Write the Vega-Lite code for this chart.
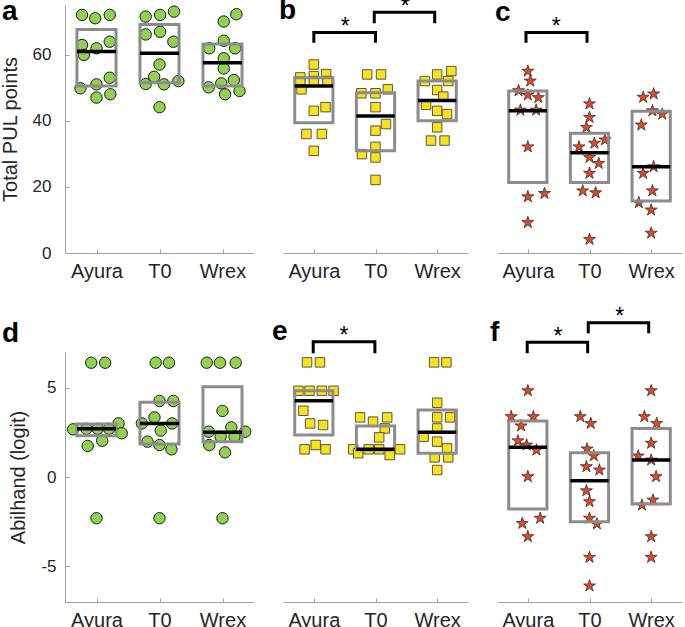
{
"$schema":"https://vega.github.io/schema/vega-lite/v6.json",
"background":"white",
"padding":{"left":0,"top":-5,"right":0,"bottom":0},
"config":{"view":{"stroke":null},"axis":{"grid":false,"ticks":true,"tickSize":-4,"tickColor":"#a0a0a0","domainColor":"#a0a0a0","labelFont":"Liberation Sans","titleFont":"Liberation Sans","labelColor":"#262626","titleColor":"#262626","titleFontWeight":"normal"},"title":{"font":"Liberation Sans","color":"#000000"},"text":{"font":"Liberation Sans"}},
"datasets":{
"pts":[
{"p":"a","x":0.77,"v":72.0},{"p":"a","x":0.98,"v":71.0},{"p":"a","x":1.21,"v":72.0},{"p":"a","x":0.77,"v":62.9},{"p":"a","x":0.8,"v":59.9},{"p":"a","x":1.0,"v":61.9},{"p":"a","x":1.21,"v":63.9},{"p":"a","x":0.745,"v":49.8},{"p":"a","x":1.0,"v":51.0},{"p":"a","x":1.21,"v":53.0},{"p":"a","x":1.0,"v":47.0},{"p":"a","x":1.22,"v":48.0},
{"p":"a","x":1.78,"v":71.5},{"p":"a","x":2.01,"v":72.0},{"p":"a","x":2.23,"v":73.0},{"p":"a","x":1.78,"v":66.1},{"p":"a","x":2.01,"v":66.9},{"p":"a","x":2.22,"v":63.9},{"p":"a","x":2.0,"v":57.0},{"p":"a","x":1.915,"v":53.3},{"p":"a","x":1.78,"v":51.1},{"p":"a","x":2.07,"v":51.0},{"p":"a","x":2.3,"v":52.0},{"p":"a","x":2.0,"v":44.1},
{"p":"a","x":3.02,"v":70.0},{"p":"a","x":3.22,"v":72.2},{"p":"a","x":2.79,"v":61.9},{"p":"a","x":3.02,"v":64.2},{"p":"a","x":3.2,"v":61.9},{"p":"a","x":3.02,"v":58.9},{"p":"a","x":3.02,"v":55.8},{"p":"a","x":2.78,"v":50.1},{"p":"a","x":2.98,"v":51.3},{"p":"a","x":3.18,"v":52.3},{"p":"a","x":3.04,"v":48.0},{"p":"a","x":3.27,"v":49.0},
{"p":"b","x":1.0,"v":57.0},{"p":"b","x":0.78,"v":53.1},{"p":"b","x":1.0,"v":53.5},{"p":"b","x":1.2,"v":54.1},{"p":"b","x":0.78,"v":51.8},{"p":"b","x":1.0,"v":52.0},{"p":"b","x":1.22,"v":52.0},{"p":"b","x":0.8,"v":49.5},{"p":"b","x":1.0,"v":43.0},{"p":"b","x":1.19,"v":44.1},{"p":"b","x":0.88,"v":36.0},{"p":"b","x":1.13,"v":36.0},{"p":"b","x":1.0,"v":30.9},
{"p":"b","x":1.865,"v":54.0},{"p":"b","x":2.09,"v":54.0},{"p":"b","x":1.77,"v":48.3},{"p":"b","x":2.0,"v":48.3},{"p":"b","x":2.2,"v":49.5},{"p":"b","x":2.0,"v":44.1},{"p":"b","x":2.17,"v":39.0},{"p":"b","x":2.0,"v":37.0},{"p":"b","x":2.0,"v":32.1},{"p":"b","x":1.78,"v":29.9},{"p":"b","x":2.0,"v":28.9},{"p":"b","x":2.0,"v":22.1},
{"p":"b","x":2.8,"v":52.0},{"p":"b","x":3.0,"v":54.0},{"p":"b","x":3.23,"v":55.0},{"p":"b","x":3.18,"v":52.0},{"p":"b","x":3.0,"v":49.3},{"p":"b","x":3.1,"v":47.3},{"p":"b","x":2.82,"v":44.8},{"p":"b","x":3.0,"v":43.0},{"p":"b","x":3.16,"v":42.0},{"p":"b","x":3.0,"v":38.0},{"p":"b","x":2.9,"v":34.0},{"p":"b","x":3.12,"v":34.0},
{"p":"c","x":1.0,"v":55.0},{"p":"c","x":1.04,"v":52.0},{"p":"c","x":0.85,"v":49.1},{"p":"c","x":1.0,"v":47.8},{"p":"c","x":1.17,"v":47.0},{"p":"c","x":0.88,"v":43.2},{"p":"c","x":1.135,"v":43.2},{"p":"c","x":1.0,"v":32.1},{"p":"c","x":1.0,"v":17.0},{"p":"c","x":1.27,"v":18.0},{"p":"c","x":1.0,"v":9.2},
{"p":"c","x":2.0,"v":45.1},{"p":"c","x":2.0,"v":41.0},{"p":"c","x":1.95,"v":38.0},{"p":"c","x":1.83,"v":32.1},{"p":"c","x":2.08,"v":33.2},{"p":"c","x":2.25,"v":34.2},{"p":"c","x":2.0,"v":28.9},{"p":"c","x":2.15,"v":27.1},{"p":"c","x":2.0,"v":24.1},{"p":"c","x":1.89,"v":18.8},{"p":"c","x":2.1,"v":18.2},{"p":"c","x":2.0,"v":4.1},
{"p":"c","x":2.87,"v":47.1},{"p":"c","x":3.04,"v":48.1},{"p":"c","x":3.02,"v":43.0},{"p":"c","x":3.18,"v":42.0},{"p":"c","x":2.84,"v":38.7},{"p":"c","x":3.04,"v":26.1},{"p":"c","x":2.87,"v":24.1},{"p":"c","x":3.02,"v":18.8},{"p":"c","x":2.8,"v":15.2},{"p":"c","x":3.0,"v":13.0},{"p":"c","x":3.0,"v":6.0},
{"p":"d","x":0.916,"v":6.4},{"p":"d","x":1.137,"v":6.4},{"p":"d","x":0.63,"v":2.67},{"p":"d","x":0.84,"v":2.7},{"p":"d","x":1.02,"v":2.7},{"p":"d","x":1.2,"v":2.7},{"p":"d","x":1.35,"v":3.0},{"p":"d","x":1.4,"v":2.45},{"p":"d","x":0.86,"v":1.74},{"p":"d","x":1.09,"v":2.03},{"p":"d","x":1.0,"v":-2.31},
{"p":"d","x":1.94,"v":6.4},{"p":"d","x":2.15,"v":6.4},{"p":"d","x":2.0,"v":4.26},{"p":"d","x":2.22,"v":4.26},{"p":"d","x":1.92,"v":3.34},{"p":"d","x":1.72,"v":3.0},{"p":"d","x":2.2,"v":3.0},{"p":"d","x":2.02,"v":2.6},{"p":"d","x":1.81,"v":1.98},{"p":"d","x":2.0,"v":1.79},{"p":"d","x":2.19,"v":1.55},{"p":"d","x":2.0,"v":-2.31},
{"p":"d","x":2.75,"v":6.4},{"p":"d","x":2.96,"v":6.4},{"p":"d","x":3.21,"v":6.4},{"p":"d","x":3.0,"v":3.7},{"p":"d","x":2.78,"v":2.54},{"p":"d","x":3.14,"v":2.78},{"p":"d","x":3.36,"v":2.54},{"p":"d","x":2.79,"v":1.79},{"p":"d","x":2.97,"v":2.26},{"p":"d","x":3.19,"v":2.26},{"p":"d","x":3.04,"v":1.38},{"p":"d","x":3.0,"v":-2.31},
{"p":"e","x":0.89,"v":6.42},{"p":"e","x":1.1,"v":6.42},{"p":"e","x":0.75,"v":4.83},{"p":"e","x":0.93,"v":4.83},{"p":"e","x":1.13,"v":4.83},{"p":"e","x":1.32,"v":4.83},{"p":"e","x":0.83,"v":3.71},{"p":"e","x":0.94,"v":3.0},{"p":"e","x":1.15,"v":2.91},{"p":"e","x":0.85,"v":1.55},{"p":"e","x":1.03,"v":1.79},{"p":"e","x":1.19,"v":1.55},
{"p":"e","x":1.75,"v":3.34},{"p":"e","x":1.96,"v":3.1},{"p":"e","x":2.19,"v":3.34},{"p":"e","x":2.15,"v":2.72},{"p":"e","x":2.06,"v":2.22},{"p":"e","x":1.64,"v":1.55},{"p":"e","x":1.72,"v":1.33},{"p":"e","x":1.89,"v":1.55},{"p":"e","x":2.06,"v":1.55},{"p":"e","x":2.23,"v":1.23},{"p":"e","x":2.4,"v":1.55},
{"p":"e","x":2.95,"v":6.42},{"p":"e","x":3.15,"v":6.42},{"p":"e","x":3.0,"v":4.16},{"p":"e","x":3.0,"v":3.34},{"p":"e","x":3.21,"v":3.34},{"p":"e","x":3.0,"v":2.72},{"p":"e","x":2.78,"v":2.26},{"p":"e","x":3.0,"v":1.98},{"p":"e","x":3.16,"v":1.6},{"p":"e","x":2.96,"v":1.1},{"p":"e","x":3.18,"v":1.1},{"p":"e","x":3.0,"v":0.39},
{"p":"f","x":1.0,"v":4.83},{"p":"f","x":0.73,"v":3.38},{"p":"f","x":1.09,"v":3.38},{"p":"f","x":0.89,"v":2.86},{"p":"f","x":0.84,"v":2.03},{"p":"f","x":0.98,"v":1.79},{"p":"f","x":1.14,"v":1.51},{"p":"f","x":1.0,"v":0.02},{"p":"f","x":1.2,"v":-2.31},{"p":"f","x":0.91,"v":-2.6},{"p":"f","x":1.0,"v":-3.34},
{"p":"f","x":1.85,"v":3.38},{"p":"f","x":2.02,"v":3.0},{"p":"f","x":1.96,"v":1.57},{"p":"f","x":2.07,"v":1.19},{"p":"f","x":1.95,"v":0.58},{"p":"f","x":2.16,"v":0.39},{"p":"f","x":1.95,"v":-0.77},{"p":"f","x":2.0,"v":-1.38},{"p":"f","x":2.0,"v":-2.31},{"p":"f","x":2.12,"v":-2.63},{"p":"f","x":2.0,"v":-4.5},{"p":"f","x":2.0,"v":-6.1},
{"p":"f","x":3.0,"v":4.83},{"p":"f","x":2.89,"v":3.38},{"p":"f","x":3.09,"v":3.0},{"p":"f","x":3.0,"v":1.89},{"p":"f","x":2.79,"v":1.18},{"p":"f","x":3.0,"v":0.95},{"p":"f","x":3.08,"v":0.02},{"p":"f","x":3.03,"v":-1.29},{"p":"f","x":2.85,"v":-1.57},{"p":"f","x":3.0,"v":-3.34},{"p":"f","x":3.0,"v":-4.5}
],
"box":[
{"p":"a","x0":0.69,"x1":1.31,"q1":50.5,"q3":67.6,"m":60.9},{"p":"a","x0":1.69,"x1":2.31,"q1":51.5,"q3":69.1,"m":60.4},{"p":"a","x0":2.69,"x1":3.31,"q1":50.5,"q3":63.2,"m":57.5},
{"p":"b","x0":0.69,"x1":1.31,"q1":39.4,"q3":53.0,"m":50.5},{"p":"b","x0":1.69,"x1":2.31,"q1":30.9,"q3":48.5,"m":41.4},{"p":"b","x0":2.69,"x1":3.31,"q1":40.0,"q3":52.0,"m":46.1},
{"p":"c","x0":0.69,"x1":1.31,"q1":21.3,"q3":49.0,"m":43.0},{"p":"c","x0":1.69,"x1":2.31,"q1":21.3,"q3":36.2,"m":30.3},{"p":"c","x0":2.69,"x1":3.31,"q1":15.7,"q3":42.9,"m":26.1},
{"p":"d","x0":0.69,"x1":1.31,"q1":2.31,"q3":2.97,"m":2.7},{"p":"d","x0":1.69,"x1":2.31,"q1":1.85,"q3":4.18,"m":3.0},{"p":"d","x0":2.69,"x1":3.31,"q1":1.98,"q3":5.06,"m":2.5},
{"p":"e","x0":0.69,"x1":1.31,"q1":2.35,"q3":4.83,"m":4.27},{"p":"e","x0":1.69,"x1":2.31,"q1":1.51,"q3":2.86,"m":1.55},{"p":"e","x0":2.69,"x1":3.31,"q1":1.33,"q3":3.75,"m":2.5},
{"p":"f","x0":0.69,"x1":1.31,"q1":-1.79,"q3":3.14,"m":1.66},{"p":"f","x0":1.69,"x1":2.31,"q1":-2.5,"q3":1.36,"m":-0.21},{"p":"f","x0":2.69,"x1":3.31,"q1":-1.51,"q3":2.72,"m":0.95}
],
"br":[
{"p":"b","id":"b1","o":1,"x":1.0,"v":63.6},{"p":"b","id":"b1","o":2,"x":1.0,"v":66.7},{"p":"b","id":"b1","o":3,"x":2.0,"v":66.7},{"p":"b","id":"b1","o":4,"x":2.0,"v":63.6},
{"p":"b","id":"b2","o":1,"x":1.98,"v":69.5},{"p":"b","id":"b2","o":2,"x":1.98,"v":72.8},{"p":"b","id":"b2","o":3,"x":2.96,"v":72.8},{"p":"b","id":"b2","o":4,"x":2.96,"v":69.5},
{"p":"c","id":"c1","o":1,"x":0.97,"v":63.6},{"p":"c","id":"c1","o":2,"x":0.97,"v":66.7},{"p":"c","id":"c1","o":3,"x":1.96,"v":66.7},{"p":"c","id":"c1","o":4,"x":1.96,"v":63.6},
{"p":"e","id":"e1","o":1,"x":0.99,"v":6.93},{"p":"e","id":"e1","o":2,"x":0.99,"v":7.58},{"p":"e","id":"e1","o":3,"x":1.99,"v":7.58},{"p":"e","id":"e1","o":4,"x":1.99,"v":6.93},
{"p":"f","id":"f1","o":1,"x":0.99,"v":6.93},{"p":"f","id":"f1","o":2,"x":0.99,"v":7.54},{"p":"f","id":"f1","o":3,"x":1.97,"v":7.54},{"p":"f","id":"f1","o":4,"x":1.97,"v":6.93},
{"p":"f","id":"f2","o":1,"x":1.98,"v":8.05},{"p":"f","id":"f2","o":2,"x":1.98,"v":8.64},{"p":"f","id":"f2","o":3,"x":2.96,"v":8.64},{"p":"f","id":"f2","o":4,"x":2.96,"v":8.05}
],
"st":[
{"p":"b","x":1.51,"v":66.7},{"p":"b","x":2.48,"v":72.8},{"p":"c","x":1.46,"v":66.7},{"p":"e","x":1.49,"v":7.58},{"p":"f","x":1.49,"v":7.54},{"p":"f","x":2.49,"v":8.64}
]
},
"columns":3,
"bounds":"flush",
"spacing":{"row":99,"column":29},
"concat":[
{"width":189,"height":248,
"title":{"text":"a","anchor":"start","frame":"bounds","fontSize":28,"fontWeight":"bold","baseline":"alphabetic","offset":0,"dy":44,"dx":2},
"encoding":{"x":{"field":"x","type":"quantitative","scale":{"domain":[0.5,3.5],"nice":false,"zero":false},"axis":{"values":[1,2,3],"labelExpr":"datum.value==1?'Ayura':datum.value==2?'T0':'Wrex'","title":null,"labelFontSize":20,"labelPadding":12}},
"y":{"field":"v","type":"quantitative","scale":{"domain":[0,75],"nice":false,"zero":false},"axis":{"values":[0,20,40,60],"title":"Total PUL points","labelFontSize":17,"titleFontSize":20,"labelPadding":18,"titlePadding":12}}},
"layer":[
{"data":{"name":"pts"},"transform":[{"filter":"datum.p=='a'"}],"mark":{"type":"point","shape":"circle","filled":true,"fill":"#92D050","stroke":"#1a1a1a","strokeWidth":1,"size":130,"opacity":1},"encoding":{}},
{"data":{"name":"box"},"transform":[{"filter":"datum.p=='a'"}],"mark":{"type":"rect","fillOpacity":0,"stroke":"#8c8c8c","strokeWidth":3},"encoding":{"x":{"field":"x0","type":"quantitative","axis":{"values":[1,2,3],"labelExpr":"datum.value==1?'Ayura':datum.value==2?'T0':'Wrex'","title":null,"labelFontSize":20,"labelPadding":12}},"x2":{"field":"x1"},"y":{"field":"q1","type":"quantitative","axis":{"values":[0,20,40,60],"title":"Total PUL points","labelFontSize":17,"titleFontSize":20,"labelPadding":18,"titlePadding":12}},"y2":{"field":"q3"}}},
{"data":{"name":"box"},"transform":[{"filter":"datum.p=='a'"}],"mark":{"type":"rule","stroke":"#000000","strokeWidth":3.5},"encoding":{"x":{"field":"x0","type":"quantitative","axis":{"values":[1,2,3],"labelExpr":"datum.value==1?'Ayura':datum.value==2?'T0':'Wrex'","title":null,"labelFontSize":20,"labelPadding":12}},"x2":{"field":"x1"},"y":{"field":"m","type":"quantitative","axis":{"values":[0,20,40,60],"title":"Total PUL points","labelFontSize":17,"titleFontSize":20,"labelPadding":18,"titlePadding":12}}}}
]},
{"width":185,"height":248,
"title":{"text":"b","anchor":"start","frame":"bounds","fontSize":28,"fontWeight":"bold","baseline":"alphabetic","offset":0,"dy":51,"dx":-4},
"encoding":{"x":{"field":"x","type":"quantitative","scale":{"domain":[0.5,3.5],"nice":false,"zero":false},"axis":{"values":[1,2,3],"labelExpr":"datum.value==1?'Ayura':datum.value==2?'T0':'Wrex'","title":null,"labelFontSize":20,"labelPadding":12}},
"y":{"field":"v","type":"quantitative","scale":{"domain":[0,75],"nice":false,"zero":false},"axis":null}},
"layer":[
{"data":{"name":"pts"},"transform":[{"filter":"datum.p=='b'"}],"mark":{"type":"point","shape":"square","filled":true,"fill":"#F9E11B","stroke":"#333333","strokeWidth":0.8,"size":90,"opacity":1},"encoding":{}},
{"data":{"name":"box"},"transform":[{"filter":"datum.p=='b'"}],"mark":{"type":"rect","fillOpacity":0,"stroke":"#8c8c8c","strokeWidth":3},"encoding":{"x":{"field":"x0","type":"quantitative","axis":{"values":[1,2,3],"labelExpr":"datum.value==1?'Ayura':datum.value==2?'T0':'Wrex'","title":null,"labelFontSize":20,"labelPadding":12}},"x2":{"field":"x1"},"y":{"field":"q1","type":"quantitative","axis":null},"y2":{"field":"q3"}}},
{"data":{"name":"box"},"transform":[{"filter":"datum.p=='b'"}],"mark":{"type":"rule","stroke":"#000000","strokeWidth":3.5},"encoding":{"x":{"field":"x0","type":"quantitative","axis":{"values":[1,2,3],"labelExpr":"datum.value==1?'Ayura':datum.value==2?'T0':'Wrex'","title":null,"labelFontSize":20,"labelPadding":12}},"x2":{"field":"x1"},"y":{"field":"m","type":"quantitative","axis":null}}},
{"data":{"name":"br"},"transform":[{"filter":"datum.p=='b'"}],"mark":{"type":"line","stroke":"#000000","strokeWidth":3,"strokeJoin":"miter"},"encoding":{"detail":{"field":"id","type":"nominal"},"order":{"field":"o","type":"quantitative"}}},
{"data":{"name":"st"},"transform":[{"filter":"datum.p=='b'"}],"mark":{"type":"text","text":"*","fontSize":23,"baseline":"alphabetic","dy":1.5,"color":"#000000"},"encoding":{}}
]},
{"width":185,"height":248,
"title":{"text":"c","anchor":"start","frame":"bounds","fontSize":28,"fontWeight":"bold","baseline":"alphabetic","offset":0,"dy":44,"dx":-2},
"encoding":{"x":{"field":"x","type":"quantitative","scale":{"domain":[0.5,3.5],"nice":false,"zero":false},"axis":{"values":[1,2,3],"labelExpr":"datum.value==1?'Ayura':datum.value==2?'T0':'Wrex'","title":null,"labelFontSize":20,"labelPadding":12}},
"y":{"field":"v","type":"quantitative","scale":{"domain":[0,75],"nice":false,"zero":false},"axis":null}},
"layer":[
{"data":{"name":"pts"},"transform":[{"filter":"datum.p=='c'"}],"mark":{"type":"point","shape":"M0,-1L0.2245,-0.309L0.951,-0.309L0.363,0.118L0.588,0.809L0,0.382L-0.588,0.809L-0.363,0.118L-0.951,-0.309L-0.2245,-0.309Z","filled":true,"fill":"#E8461E","stroke":"#333333","strokeWidth":0.8,"size":160,"opacity":1},"encoding":{}},
{"data":{"name":"box"},"transform":[{"filter":"datum.p=='c'"}],"mark":{"type":"rect","fillOpacity":0,"stroke":"#8c8c8c","strokeWidth":3},"encoding":{"x":{"field":"x0","type":"quantitative","axis":{"values":[1,2,3],"labelExpr":"datum.value==1?'Ayura':datum.value==2?'T0':'Wrex'","title":null,"labelFontSize":20,"labelPadding":12}},"x2":{"field":"x1"},"y":{"field":"q1","type":"quantitative","axis":null},"y2":{"field":"q3"}}},
{"data":{"name":"box"},"transform":[{"filter":"datum.p=='c'"}],"mark":{"type":"rule","stroke":"#000000","strokeWidth":3.5},"encoding":{"x":{"field":"x0","type":"quantitative","axis":{"values":[1,2,3],"labelExpr":"datum.value==1?'Ayura':datum.value==2?'T0':'Wrex'","title":null,"labelFontSize":20,"labelPadding":12}},"x2":{"field":"x1"},"y":{"field":"m","type":"quantitative","axis":null}}},
{"data":{"name":"br"},"transform":[{"filter":"datum.p=='c'"}],"mark":{"type":"line","stroke":"#000000","strokeWidth":3,"strokeJoin":"miter"},"encoding":{"detail":{"field":"id","type":"nominal"},"order":{"field":"o","type":"quantitative"}}},
{"data":{"name":"st"},"transform":[{"filter":"datum.p=='c'"}],"mark":{"type":"text","text":"*","fontSize":23,"baseline":"alphabetic","dy":1.5,"color":"#000000"},"encoding":{}}
]},
{"width":189,"height":250,
"title":{"text":"d","anchor":"start","frame":"bounds","fontSize":28,"fontWeight":"bold","baseline":"alphabetic","offset":0,"dy":18,"dx":-7},
"encoding":{"x":{"field":"x","type":"quantitative","scale":{"domain":[0.5,3.5],"nice":false,"zero":false},"axis":{"values":[1,2,3],"labelExpr":"datum.value==1?'Ayura':datum.value==2?'T0':'Wrex'","title":null,"labelFontSize":20,"labelPadding":12}},
"y":{"field":"v","type":"quantitative","scale":{"domain":[-7,7],"nice":false,"zero":false},"axis":{"values":[-5,0,5],"labelExpr":"datum.value<0?'-'+abs(datum.value):datum.label","title":"Abilhand (logit)","labelFontSize":17,"titleFontSize":20,"labelPadding":13,"titlePadding":12}}},
"layer":[
{"data":{"name":"pts"},"transform":[{"filter":"datum.p=='d'"}],"mark":{"type":"point","shape":"circle","filled":true,"fill":"#92D050","stroke":"#1a1a1a","strokeWidth":1,"size":130,"opacity":1},"encoding":{}},
{"data":{"name":"box"},"transform":[{"filter":"datum.p=='d'"}],"mark":{"type":"rect","fillOpacity":0,"stroke":"#8c8c8c","strokeWidth":3},"encoding":{"x":{"field":"x0","type":"quantitative","axis":{"values":[1,2,3],"labelExpr":"datum.value==1?'Ayura':datum.value==2?'T0':'Wrex'","title":null,"labelFontSize":20,"labelPadding":12}},"x2":{"field":"x1"},"y":{"field":"q1","type":"quantitative","axis":{"values":[-5,0,5],"labelExpr":"datum.value<0?'-'+abs(datum.value):datum.label","title":"Abilhand (logit)","labelFontSize":17,"titleFontSize":20,"labelPadding":13,"titlePadding":12}},"y2":{"field":"q3"}}},
{"data":{"name":"box"},"transform":[{"filter":"datum.p=='d'"}],"mark":{"type":"rule","stroke":"#000000","strokeWidth":3.5},"encoding":{"x":{"field":"x0","type":"quantitative","axis":{"values":[1,2,3],"labelExpr":"datum.value==1?'Ayura':datum.value==2?'T0':'Wrex'","title":null,"labelFontSize":20,"labelPadding":12}},"x2":{"field":"x1"},"y":{"field":"m","type":"quantitative","axis":{"values":[-5,0,5],"labelExpr":"datum.value<0?'-'+abs(datum.value):datum.label","title":"Abilhand (logit)","labelFontSize":17,"titleFontSize":20,"labelPadding":13,"titlePadding":12}}}}
]},
{"width":185,"height":250,
"title":{"text":"e","anchor":"start","frame":"bounds","fontSize":28,"fontWeight":"bold","baseline":"alphabetic","offset":0,"dy":43,"dx":-11},
"encoding":{"x":{"field":"x","type":"quantitative","scale":{"domain":[0.5,3.5],"nice":false,"zero":false},"axis":{"values":[1,2,3],"labelExpr":"datum.value==1?'Ayura':datum.value==2?'T0':'Wrex'","title":null,"labelFontSize":20,"labelPadding":12}},
"y":{"field":"v","type":"quantitative","scale":{"domain":[-7,7],"nice":false,"zero":false},"axis":null}},
"layer":[
{"data":{"name":"pts"},"transform":[{"filter":"datum.p=='e'"}],"mark":{"type":"point","shape":"square","filled":true,"fill":"#F9E11B","stroke":"#333333","strokeWidth":0.8,"size":90,"opacity":1},"encoding":{}},
{"data":{"name":"box"},"transform":[{"filter":"datum.p=='e'"}],"mark":{"type":"rect","fillOpacity":0,"stroke":"#8c8c8c","strokeWidth":3},"encoding":{"x":{"field":"x0","type":"quantitative","axis":{"values":[1,2,3],"labelExpr":"datum.value==1?'Ayura':datum.value==2?'T0':'Wrex'","title":null,"labelFontSize":20,"labelPadding":12}},"x2":{"field":"x1"},"y":{"field":"q1","type":"quantitative","axis":null},"y2":{"field":"q3"}}},
{"data":{"name":"box"},"transform":[{"filter":"datum.p=='e'"}],"mark":{"type":"rule","stroke":"#000000","strokeWidth":3.5},"encoding":{"x":{"field":"x0","type":"quantitative","axis":{"values":[1,2,3],"labelExpr":"datum.value==1?'Ayura':datum.value==2?'T0':'Wrex'","title":null,"labelFontSize":20,"labelPadding":12}},"x2":{"field":"x1"},"y":{"field":"m","type":"quantitative","axis":null}}},
{"data":{"name":"br"},"transform":[{"filter":"datum.p=='e'"}],"mark":{"type":"line","stroke":"#000000","strokeWidth":3,"strokeJoin":"miter"},"encoding":{"detail":{"field":"id","type":"nominal"},"order":{"field":"o","type":"quantitative"}}},
{"data":{"name":"st"},"transform":[{"filter":"datum.p=='e'"}],"mark":{"type":"text","text":"*","fontSize":23,"baseline":"alphabetic","dy":1.5,"color":"#000000"},"encoding":{}}
]},
{"width":185,"height":250,
"title":{"text":"f","anchor":"start","frame":"bounds","fontSize":28,"fontWeight":"bold","baseline":"alphabetic","offset":0,"dy":63,"dx":-7},
"encoding":{"x":{"field":"x","type":"quantitative","scale":{"domain":[0.5,3.5],"nice":false,"zero":false},"axis":{"values":[1,2,3],"labelExpr":"datum.value==1?'Ayura':datum.value==2?'T0':'Wrex'","title":null,"labelFontSize":20,"labelPadding":12}},
"y":{"field":"v","type":"quantitative","scale":{"domain":[-7,7],"nice":false,"zero":false},"axis":null}},
"layer":[
{"data":{"name":"pts"},"transform":[{"filter":"datum.p=='f'"}],"mark":{"type":"point","shape":"M0,-1L0.2245,-0.309L0.951,-0.309L0.363,0.118L0.588,0.809L0,0.382L-0.588,0.809L-0.363,0.118L-0.951,-0.309L-0.2245,-0.309Z","filled":true,"fill":"#E8461E","stroke":"#333333","strokeWidth":0.8,"size":160,"opacity":1},"encoding":{}},
{"data":{"name":"box"},"transform":[{"filter":"datum.p=='f'"}],"mark":{"type":"rect","fillOpacity":0,"stroke":"#8c8c8c","strokeWidth":3},"encoding":{"x":{"field":"x0","type":"quantitative","axis":{"values":[1,2,3],"labelExpr":"datum.value==1?'Ayura':datum.value==2?'T0':'Wrex'","title":null,"labelFontSize":20,"labelPadding":12}},"x2":{"field":"x1"},"y":{"field":"q1","type":"quantitative","axis":null},"y2":{"field":"q3"}}},
{"data":{"name":"box"},"transform":[{"filter":"datum.p=='f'"}],"mark":{"type":"rule","stroke":"#000000","strokeWidth":3.5},"encoding":{"x":{"field":"x0","type":"quantitative","axis":{"values":[1,2,3],"labelExpr":"datum.value==1?'Ayura':datum.value==2?'T0':'Wrex'","title":null,"labelFontSize":20,"labelPadding":12}},"x2":{"field":"x1"},"y":{"field":"m","type":"quantitative","axis":null}}},
{"data":{"name":"br"},"transform":[{"filter":"datum.p=='f'"}],"mark":{"type":"line","stroke":"#000000","strokeWidth":3,"strokeJoin":"miter"},"encoding":{"detail":{"field":"id","type":"nominal"},"order":{"field":"o","type":"quantitative"}}},
{"data":{"name":"st"},"transform":[{"filter":"datum.p=='f'"}],"mark":{"type":"text","text":"*","fontSize":23,"baseline":"alphabetic","dy":1.5,"color":"#000000"},"encoding":{}}
]}
]
}
